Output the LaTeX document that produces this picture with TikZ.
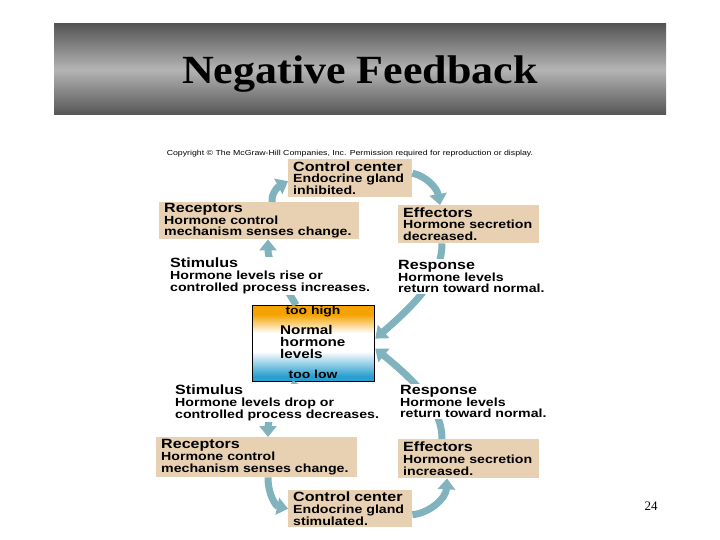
\documentclass[tikz,border=0pt]{standalone}
\usepackage{fontspec}
\setmainfont{Liberation Serif}
\newfontfamily\dgfont{Liberation Sans}[FakeStretch=1.2]
\newfontfamily\ttlfont{Liberation Serif}[FakeStretch=1.1]
\usetikzlibrary{arrows.meta}
\definecolor{beige}{HTML}{E8D0B2}
\definecolor{arrowc}{HTML}{80B3BD}
\definecolor{orng}{HTML}{F5A300}
\definecolor{blu}{HTML}{2A9FD0}
\definecolor{gdark}{HTML}{555555}
\definecolor{glight}{HTML}{B4B4B4}
\newcommand\hdsz{\fontsize{13.4}{11.7}\selectfont}
\newcommand\bdsz{\fontsize{11.8}{11.7}\selectfont}
\tikzset{
  stagebox/.style={fill=beige, anchor=north west, align=left, inner xsep=5pt, inner ysep=0pt, font=\dgfont\bfseries\bdsz},
  plaintext/.style={fill=white, anchor=north west, align=left, inner sep=1pt, font=\dgfont\bfseries\bdsz},
  flow/.style={draw=arrowc, line width=7pt, -{Triangle[width=17pt,length=11pt]}}
}
\begin{document}
\begin{tikzpicture}[x=1pt,y=-1pt]
\useasboundingbox (0,0) rectangle (720,540);
\fill[white] (0,0) rectangle (720,540);
% title bar
\shade[top color=gdark, bottom color=gdark, middle color=glight] (54,24) rectangle (666,115);
\node[anchor=base, inner sep=0pt, font=\ttlfont\bfseries\fontsize{40}{40}\selectfont] (title) at (360,84) {Negative Feedback};
% copyright
\node[anchor=base, inner sep=0pt, font=\dgfont\fontsize{7.3}{6}\selectfont] (copy) at (350,156) {Copyright © The McGraw-Hill Companies, Inc. Permission required for reproduction or display.};
% top loop boxes
\node[stagebox, text width=114pt, minimum height=38pt] (ccA) at (288,159) {{\hdsz Control center}\\Endocrine gland\\inhibited.};
\node[stagebox, text width=190pt, minimum height=37pt] (recA) at (159,202) {{\hdsz Receptors}\\Hormone control\\mechanism senses change.};
\node[stagebox, text width=131pt, minimum height=38pt] (effA) at (398,205) {{\hdsz Effectors}\\Hormone secretion\\decreased.};
% bottom loop boxes
\node[stagebox, text width=191pt, minimum height=40pt] (recB) at (156,437) {{\hdsz Receptors}\\Hormone control\\mechanism senses change.};
\node[stagebox, text width=131pt, minimum height=39pt] (effB) at (398,439) {{\hdsz Effectors}\\Hormone secretion\\increased.};
\node[stagebox, text width=114pt, minimum height=37pt] (ccB) at (288,490) {{\hdsz Control center}\\Endocrine gland\\stimulated.};
% central box shading
\fill[orng] (252,305) rectangle (374,315);
\shade[top color=orng, bottom color=white] (252,314.5) rectangle (374,333);
\fill[white] (252,332.5) rectangle (374,352);
\shade[top color=white, bottom color=blu] (252,351.5) rectangle (374,376);
\fill[blu] (252,375.5) rectangle (374,381);
\node[draw, line width=1.3pt, anchor=north west, minimum width=122pt, minimum height=76pt, inner sep=0pt] (norm) at (252,305) {};
\node[inner sep=0pt, font=\dgfont\bfseries\fontsize{11.6}{11}\selectfont] (high) at (313,312) {too high};
\node[anchor=north west, align=left, inner sep=0pt, font=\dgfont\bfseries\fontsize{12.7}{11.8}\selectfont] (normtxt) at (280,325) {Normal\\hormone\\levels};
\node[inner sep=0pt, font=\dgfont\bfseries\fontsize{11.6}{11}\selectfont] (low) at (313,374) {too low};
% arrows top loop
\draw[flow] ([xshift=113pt]recA.north west) .. controls (271,193) and (279,186) .. ([yshift=-3pt]ccA.west);
\draw[flow] ([yshift=5pt]ccA.east) .. controls (426,176) and (437,188) .. ([xshift=42pt]effA.north west);
\draw[flow] ([xshift=44pt]effA.south west) .. controls (442,275) and (420,300) .. ([yshift=5pt]norm.east);
\draw[flow] ([xshift=44pt]norm.north west) .. controls (285,285) and (268,265) .. ([xshift=109pt]recA.south west);
% arrows bottom loop
\draw[flow] ([xshift=44pt]norm.south west) .. controls (285,400) and (268,415) .. ([xshift=112pt]recB.north west);
\draw[flow] ([xshift=112pt]recB.south west) .. controls (268,495) and (276,506) .. (ccB.west);
\draw[flow] ([yshift=-6pt]ccB.east) .. controls (430,513) and (446,498) .. ([xshift=49pt]effB.south west);
\draw[flow] ([xshift=44pt]effB.north west) .. controls (442,410) and (420,385) .. ([yshift=-5pt]norm.east);
% stimulus / response texts
\node[plaintext] (stimA) at (169,257) {{\hdsz Stimulus}\\Hormone levels rise or\\controlled process increases.};
\node[plaintext] (respA) at (397,259) {{\hdsz Response}\\Hormone levels\\return toward normal.};
\node[plaintext] (stimB) at (174,384) {{\hdsz Stimulus}\\Hormone levels drop or\\controlled process decreases.};
\node[plaintext] (respB) at (399,384) {{\hdsz Response}\\Hormone levels\\return toward normal.};
% page number
\node[anchor=base, inner sep=0pt, font=\fontsize{13}{13}\selectfont] (pg) at (651,510) {24};
\end{tikzpicture}
\end{document}
